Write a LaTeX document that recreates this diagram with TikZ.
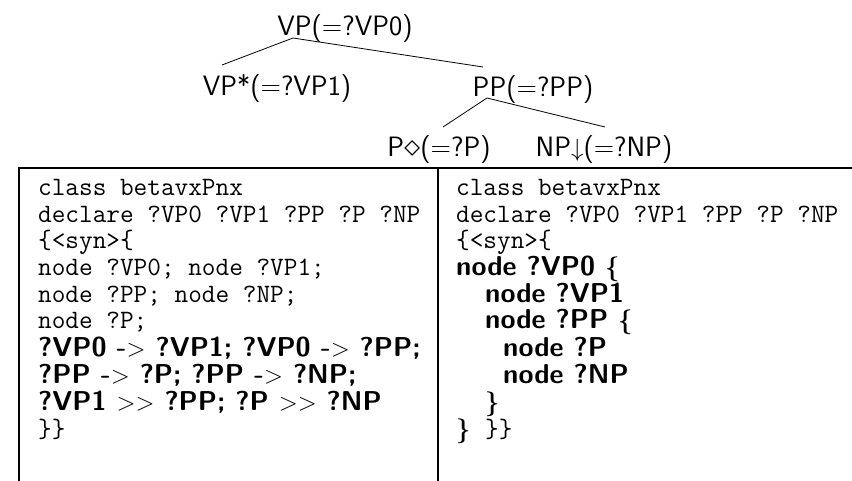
\documentclass[tikz,border=0pt]{standalone}
\usepackage{graphicx}
\begin{document}
\begin{tikzpicture}[x=1pt,y=-1pt,
  tree/.style={font=\fontsize{28}{30}\selectfont\sffamily, inner sep=0pt, anchor=base},
  code/.style={font=\fontsize{26.5}{28}\selectfont\ttfamily, inner sep=0pt, anchor=base west},
  bcode/.style={font=\fontsize{27.3}{28}\selectfont\sffamily\bfseries, inner sep=0pt, anchor=base west},
  branch/.style={line width=0.8pt},
  rulestyle/.style={line width=2.7pt},
  midrule/.style={line width=2pt}]
\useasboundingbox (0,0) rectangle (852,481);
% tree
\node[tree] (vp0) at (345,36) {VP(=?VP0)};
\node[tree] (vp1) at (277,96) {VP*(=?VP1)};
\node[tree] (pp) at (533,97) {PP(=?PP)};
\node[tree] (p) at (439,157) {P\scalebox{1.3}{$\diamond$}(=?P)};
\node[tree] (np) at (604,157) {NP$\downarrow$(=?NP)};
\coordinate (r0) at (293,38);
\coordinate (c1) at (222,65);
\coordinate (c2) at (483,67);
\coordinate (r2) at (487,98);
\coordinate (c3) at (443,127);
\coordinate (c4) at (605,127);
\draw[branch] (r0) -- (c1);
\draw[branch] (r0) -- (c2);
\draw[branch] (r2) -- (c3);
\draw[branch] (r2) -- (c4);
% table rules
\coordinate (tl) at (19,168);
\coordinate (tr) at (852,168);
\coordinate (bl) at (19,481);
\coordinate (tm) at (438,168);
\coordinate (bm) at (438,481);
\draw[rulestyle] (tr) -- (tl) -- (bl);
\draw[midrule] (tm) -- (bm);
% left column
\node[code] (l1) at (38,196) {class betavxPnx};
\node[code] (l2) at (38,223) {declare ?VP0 ?VP1 ?PP ?P ?NP};
\node[code] (l3) at (38,249) {\{<syn>\{};
\node[code] (l4) at (38,276) {node ?VP0; node ?VP1;};
\node[code] (l5) at (38,303) {node ?PP; node ?NP;};
\node[code] (l6) at (38,329) {node ?P;};
\node[bcode] (l7) at (38,356) {?VP0 -$>$ ?VP1; ?VP0 -$>$ ?PP;};
\node[bcode] (l8) at (38,383) {?PP -$>$ ?P; ?PP -$>$ ?NP;};
\node[bcode] (l9) at (38,410) {?VP1 $>>$ ?PP; ?P $>>$ ?NP};
\node[code] (l10) at (38,437) {\}\}};
% right column
\node[code] (r1) at (456,196) {class betavxPnx};
\node[code] (rr2) at (456,223) {declare ?VP0 ?VP1 ?PP ?P ?NP};
\node[code] (r3) at (456,249) {\{<syn>\{};
\node[bcode] (r4) at (456,276) {node ?VP0 {\boldmath$\{$}};
\node[bcode] (r5) at (485,303) {node ?VP1};
\node[bcode] (r6) at (485,329) {node ?PP {\boldmath$\{$}};
\node[bcode] (r7) at (503,356) {node ?P};
\node[bcode] (r8) at (503,383) {node ?NP};
\node[bcode] (r9) at (485,410) {{\boldmath$\}$}};
\node[bcode] (r10) at (456,437) {{\boldmath$\}$}};
\node[code] (r11) at (485,437) {\}\}};
\end{tikzpicture}
\end{document}
